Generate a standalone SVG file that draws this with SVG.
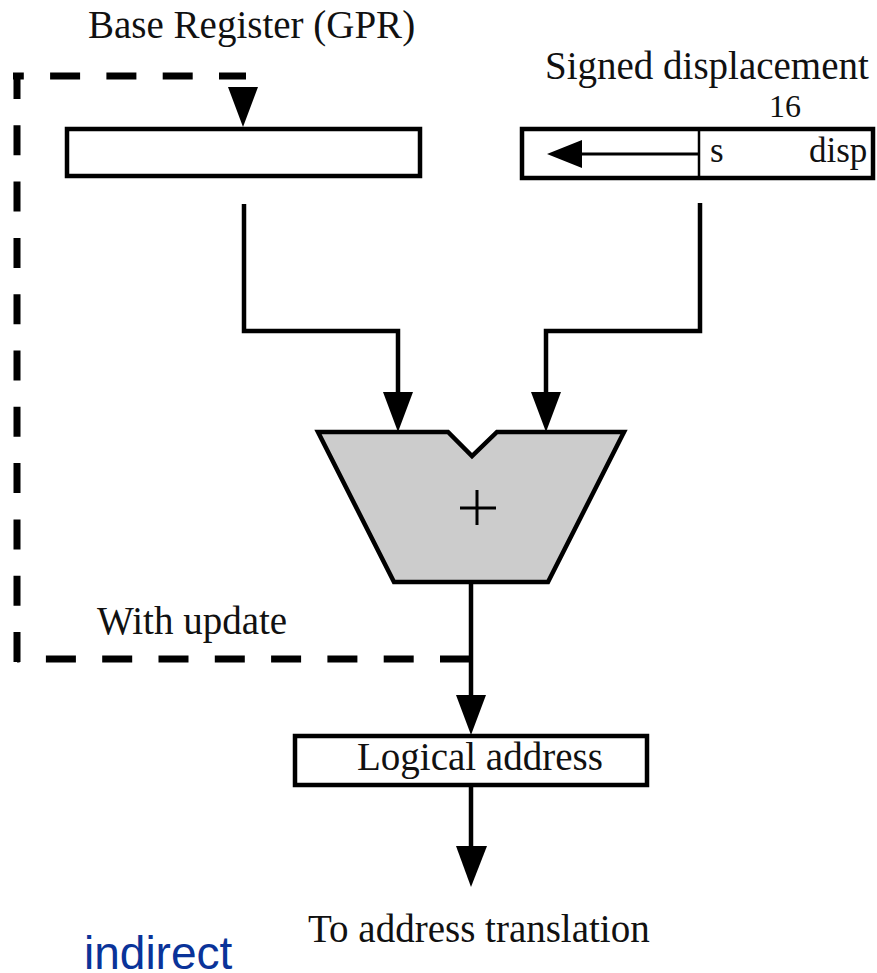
<svg xmlns="http://www.w3.org/2000/svg" xmlns:xlink="http://www.w3.org/1999/xlink" width="877" height="973" viewBox="0 0 877 973">
  <style>
    .box { fill: #ffffff; stroke: #000000; stroke-width: 4.5; }
    .wire { fill: none; stroke: #000000; stroke-width: 4.5; stroke-linejoin: miter; }
    .dash { fill: none; stroke: #000000; stroke-width: 7; stroke-dasharray: 30 26.3; }
    .lbl { font-family: "Liberation Serif", "Times New Roman", serif; font-size: 39px; fill: #111111; }
    .small { font-size: 35px; }
    .tiny { font-size: 32px; }
    .note { font-family: "Liberation Sans", Arial, sans-serif; font-size: 46px; fill: #0a3399; }
  </style>
  <defs>
    <!-- downward arrowhead, tip at the origin -->
    <path id="arrowDown" d="M-15,-40 L15,-40 L0,0 Z" fill="#000000"/>
  </defs>

  <!-- labels -->
  <text class="lbl" x="88" y="38">Base Register (GPR)</text>
  <text class="lbl" x="545" y="79">Signed displacement</text>
  <text class="lbl tiny" x="769" y="117">16</text>
  <text class="lbl" x="97" y="634">With update</text>
  <text class="lbl" x="308" y="942">To address translation</text>
  <text class="note" x="84" y="969">indirect</text>

  <g id="connectors">
    <!-- update path back into the base register -->
    <line class="dash" x1="470" y1="659" x2="17" y2="659" stroke-dasharray="30.5 26"/>
    <line class="dash" x1="17" y1="662" x2="17" y2="73"/>
    <line class="dash" x1="246" y1="76" x2="13" y2="76" stroke-dasharray="30 26" stroke-dashoffset="3"/>
    <use xlink:href="#arrowDown" x="243" y="127"/>

    <!-- base register into adder -->
    <polyline class="wire" points="244,204 244,331 398,331 398,394"/>
    <use xlink:href="#arrowDown" x="398" y="432"/>

    <!-- displacement into adder -->
    <polyline class="wire" points="700,203 700,331 546,331 546,394"/>
    <use xlink:href="#arrowDown" x="546" y="432"/>

    <!-- adder output to logical address -->
    <line class="wire" x1="471" y1="582" x2="471" y2="697"/>
    <use xlink:href="#arrowDown" x="471" y="735"/>

    <!-- logical address to translation -->
    <line class="wire" x1="471" y1="787" x2="471" y2="850"/>
    <path d="M456,846 L487,846 L471,887 Z" fill="#000000"/>
  </g>

  <g id="base-register">
    <rect class="box" x="67" y="129" width="353" height="47"/>
  </g>

  <g id="displacement">
    <rect class="box" x="522" y="129" width="351" height="49"/>
    <line x1="699" y1="129" x2="699" y2="178" stroke="#000000" stroke-width="2.5"/>
    <line x1="699" y1="154" x2="578" y2="154" stroke="#000000" stroke-width="3"/>
    <path d="M547,154 L582,140 L582,168 Z" fill="#000000"/>
    <text class="lbl small" x="710" y="162">s</text>
    <text class="lbl small" x="809" y="162">disp</text>
  </g>

  <g id="adder">
    <polygon points="318,432 448,432 472,456 497,432 624,432 548,582 394,582" fill="#cccccc" stroke="#000000" stroke-width="4.5" stroke-linejoin="miter"/>
    <line x1="460" y1="508" x2="496" y2="508" stroke="#000000" stroke-width="3"/>
    <line x1="477" y1="490" x2="477" y2="525" stroke="#000000" stroke-width="3"/>
  </g>

  <g id="logical-address">
    <rect class="box" x="295" y="736" width="352" height="49"/>
    <text class="lbl" x="357" y="770">Logical address</text>
  </g>
</svg>
